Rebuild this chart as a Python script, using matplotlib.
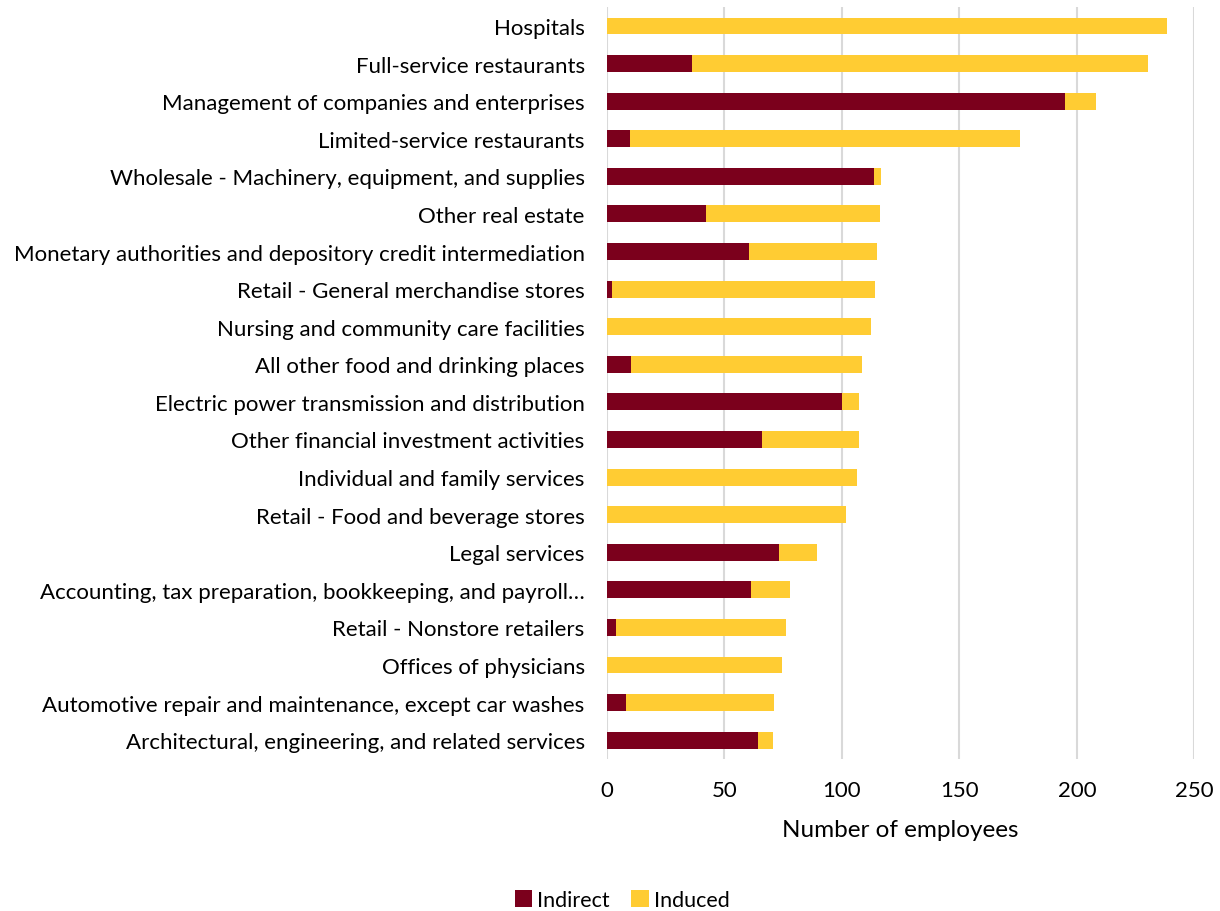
import numpy as np
import matplotlib.pyplot as plt

plt.rcParams['font.family'] = ['Lato', 'DejaVu Sans']

industries = [
    "Hospitals",
    "Full-service restaurants",
    "Management of companies and enterprises",
    "Limited-service restaurants",
    "Wholesale - Machinery, equipment, and supplies",
    "Other real estate",
    "Monetary authorities and depository credit intermediation",
    "Retail - General merchandise stores",
    "Nursing and community care facilities",
    "All other food and drinking places",
    "Electric power transmission and distribution",
    "Other financial investment activities",
    "Individual and family services",
    "Retail - Food and beverage stores",
    "Legal services",
    "Accounting, tax preparation, bookkeeping, and payroll\u2026",
    "Retail - Nonstore retailers",
    "Offices of physicians",
    "Automotive repair and maintenance, except car washes",
    "Architectural, engineering, and related services",
]

indirect = [0, 36.4, 194.8, 9.7, 113.5, 42.0, 60.6, 2.2, 0, 10.3,
            100.0, 66.0, 0, 0, 73.2, 61.2, 3.7, 0, 8.2, 64.3]
total = [238.2, 230.1, 208.3, 175.8, 116.7, 116.1, 114.8, 113.9, 112.2, 108.4,
         107.3, 107.2, 106.4, 101.8, 89.3, 77.7, 76.0, 74.7, 71.1, 70.7]
induced = [t - i for t, i in zip(total, indirect)]

c_indirect = "#7B001C"
c_induced = "#FFCC33"

fig = plt.figure(figsize=(12.2, 9.12), dpi=100)
ax = fig.add_axes([0.4975, 0.1667, 0.4815, 0.8243])

y = np.arange(len(industries))
h = 0.45
ax.barh(y, indirect, height=h, color=c_indirect, label="Indirect", zorder=3)
ax.barh(y, induced, left=indirect, height=h, color=c_induced, label="Induced", zorder=3)

ax.set_ylim(len(industries) - 0.5, -0.5)
ax.set_xlim(0, 250)
ax.set_xticks([0, 50, 100, 150, 200, 250])
ax.set_yticks(y)
ax.set_yticklabels(industries, fontsize=16)
ax.tick_params(axis='x', labelsize=16, length=0, pad=15)
ax.tick_params(axis='y', length=0, pad=16)
ax.grid(axis='x', color='#D9D9D9', linewidth=1.5, zorder=0)
for s in ax.spines.values():
    s.set_visible(False)
ax.set_xlabel("Number of employees", fontsize=17.5, labelpad=14)

fig.legend(loc='lower center', bbox_to_anchor=(0.51, -0.02), ncol=2, frameon=False,
           fontsize=15.5, handlelength=0.8, handleheight=0.8, handletextpad=0.25,
           columnspacing=1.0)

fig.savefig("out.png", dpi=100)
